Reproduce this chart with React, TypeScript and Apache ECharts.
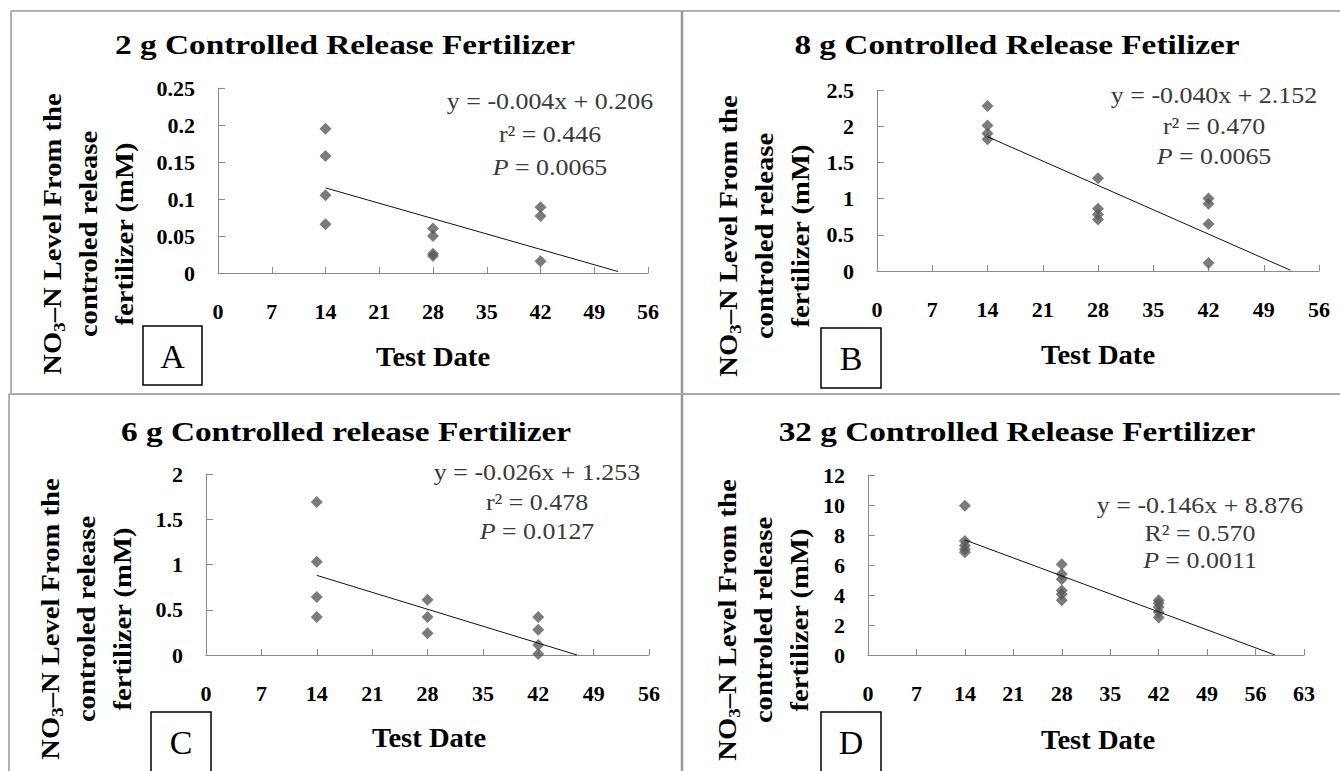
import React, { useEffect, useRef } from 'react';
import * as echarts from 'echarts';

// ---------- data ----------
const days = [14, 28, 42];

const titles = [
  '2 g Controlled Release Fertilizer',
  '8 g Controlled Release Fetilizer',
  '6 g Controlled release Fertilizer',
  '32 g Controlled Release Fertilizer',
];
const panelLetters = ['A', 'B', 'C', 'D'];

// NO3-N values (mM) at day 14, 28, 42
const valuesA = [
  [0.195, 0.158, 0.105, 0.066],
  [0.06, 0.05, 0.026, 0.023],
  [0.089, 0.077, 0.016],
];
const valuesB = [
  [2.28, 2.01, 1.9, 1.82],
  [1.28, 0.86, 0.78, 0.71],
  [1.0, 0.93, 0.65, 0.11],
];
const valuesC = [
  [1.69, 1.03, 0.64, 0.42],
  [0.61, 0.42, 0.24],
  [0.42, 0.28, 0.11, 0.01],
];
const valuesD = [
  [9.95, 7.6, 7.3, 7.05, 6.85],
  [6.05, 5.4, 5.05, 4.3, 4.05, 3.65],
  [3.65, 3.45, 3.2, 2.85, 2.5],
];

// trend lines as drawn: [day, value] at start and end
const trendA = [[14, 0.115], [52.1, 0.002]];
const trendB = [[14, 1.855], [52.4, 0.01]];
const trendC = [[14, 0.88], [46.9, 0]];
const trendD = [[14, 7.67], [58.8, 0]];

const equations = [
  ['y = -0.004x + 0.206', 'r² = 0.446', '0.0065'],
  ['y = -0.040x + 2.152', 'r² = 0.470', '0.0065'],
  ['y = -0.026x + 1.253', 'r² = 0.478', '0.0127'],
  ['y = -0.146x + 8.876', 'R² = 0.570', '0.0011'],
];

const yMax = [0.25, 2.5, 2, 12];
const yInterval = [0.05, 0.5, 0.5, 2];
const xMax = [56, 56, 56, 63];
const xInterval = 7;

const allValues = [valuesA, valuesB, valuesC, valuesD];
const allTrends = [trendA, trendB, trendC, trendD];

// ---------- layout ----------
const FONT = 'Liberation Serif, Times New Roman, serif';

const grids = [
  { left: 218, top: 88, width: 430, height: 185 },
  { left: 877, top: 90, width: 442, height: 181 },
  { left: 206, top: 474, width: 443, height: 181 },
  { left: 868, top: 475, width: 436, height: 180 },
];
const titlePos = [[345, 45], [1017, 45], [346, 432], [1017, 432]];
const eqPos = [
  { x: 550, ys: [101, 134, 167] },
  { x: 1214, ys: [95, 126, 156] },
  { x: 537, ys: [472, 502, 531] },
  { x: 1200, ys: [505, 533, 560] },
];
const xNamePos = [[433, 357], [1098, 355], [429, 738], [1098, 740]];
const yNamePos = [[88, 234], [764, 236], [86, 619], [763, 620]];
const boxPos = [
  [143, 326, 59, 59],
  [821, 328, 60, 60],
  [151, 712, 60, 70],
  [821, 712, 60, 70],
];

function buildOption() {
  const axisLineStyle = { color: '#8a8a8a', width: 1 };
  const labelStyle = {
    fontSize: 22,
    fontWeight: 'bold',
    fontFamily: FONT,
    color: '#000',
    showMinLabel: true,
    showMaxLabel: true,
  };
  const xAxis = grids.map((_, i) => ({
    type: 'value',
    gridIndex: i,
    min: 0,
    max: xMax[i],
    interval: xInterval,
    splitLine: { show: false },
    axisLine: { show: true, lineStyle: axisLineStyle },
    axisTick: { show: true, inside: true, length: 6, lineStyle: axisLineStyle },
    axisLabel: { ...labelStyle, margin: 27 },
  }));
  const yAxis = grids.map((_, i) => ({
    type: 'value',
    gridIndex: i,
    min: 0,
    max: yMax[i],
    interval: yInterval[i],
    splitLine: { show: false },
    axisLine: { show: true, lineStyle: axisLineStyle },
    axisTick: { show: true, inside: true, length: 7, lineStyle: axisLineStyle },
    axisLabel: { ...labelStyle, margin: 23 },
  }));

  const series: any[] = [];
  allValues.forEach((vals, i) => {
    const pts: number[][] = [];
    vals.forEach((arr, d) => arr.forEach((v) => pts.push([days[d], v])));
    series.push({
      type: 'scatter',
      xAxisIndex: i,
      yAxisIndex: i,
      data: pts,
      symbol: 'diamond',
      symbolSize: [12, 12],
      itemStyle: { color: '#5a5a5a' },
      z: 3,
    });
    series.push({
      type: 'line',
      xAxisIndex: i,
      yAxisIndex: i,
      data: allTrends[i],
      symbol: 'none',
      lineStyle: { color: '#111', width: 1 },
      z: 4,
    });
  });

  const graphic: any[] = [];
  // frame lines
  graphic.push(
    { type: 'line', shape: { x1: 11, y1: 11, x2: 1340, y2: 11 }, style: { stroke: '#999', lineWidth: 1.5 } },
    { type: 'line', shape: { x1: 11, y1: 11, x2: 11, y2: 394 }, style: { stroke: '#999', lineWidth: 1.5 } },
    { type: 'line', shape: { x1: 9, y1: 394, x2: 9, y2: 771 }, style: { stroke: '#999', lineWidth: 1.5 } },
    { type: 'line', shape: { x1: 682, y1: 11, x2: 682, y2: 771 }, style: { stroke: '#999', lineWidth: 2.5 } },
    { type: 'line', shape: { x1: 9, y1: 394, x2: 1340, y2: 394 }, style: { stroke: '#aaa', lineWidth: 2 } }
  );

  for (let i = 0; i < 4; i++) {
    // title
    graphic.push({
      type: 'text',
      x: titlePos[i][0],
      y: titlePos[i][1],
      scaleX: 1.19,
      style: {
        text: titles[i],
        fontFamily: FONT,
        fontWeight: 'bold',
        fontSize: 28,
        fill: '#000',
        align: 'center',
        verticalAlign: 'middle',
      },
    });
    // equation block
    const eq = equations[i];
    const ep = eqPos[i];
    const eqStyle = { fontFamily: FONT, fontSize: 24, fill: '#3a3a3a', align: 'center', verticalAlign: 'middle' };
    graphic.push({ type: 'text', x: ep.x, y: ep.ys[0], scaleX: 1.08, style: { ...eqStyle, text: eq[0] } });
    graphic.push({ type: 'text', x: ep.x, y: ep.ys[1], scaleX: 1.08, style: { ...eqStyle, text: eq[1] } });
    graphic.push({
      type: 'text',
      x: ep.x,
      y: ep.ys[2],
      scaleX: 1.08,
      style: {
        ...eqStyle,
        text: '{i|P}{n| = ' + eq[2] + '}',
        rich: {
          i: { fontFamily: FONT, fontSize: 24, fontStyle: 'italic', fill: '#3a3a3a' },
          n: { fontFamily: FONT, fontSize: 24, fill: '#3a3a3a' },
        },
      },
    });
    // x axis name
    graphic.push({
      type: 'text',
      x: xNamePos[i][0],
      y: xNamePos[i][1],
      scaleX: 1.06,
      style: {
        text: 'Test Date',
        fontFamily: FONT,
        fontWeight: 'bold',
        fontSize: 27,
        fill: '#000',
        align: 'center',
        verticalAlign: 'middle',
      },
    });
    // y axis name (rotated)
    const b = { fontFamily: FONT, fontWeight: 'bold', fontSize: 26, lineHeight: 36, fill: '#000' };
    graphic.push({
      type: 'text',
      x: yNamePos[i][0],
      y: yNamePos[i][1],
      rotation: Math.PI / 2,
      scaleX: 1.1,
      style: {
        text: '{b|NO}{s|3}{b|–N Level From the}\n{b|controled release}\n{b|fertilizer (mM)}',
        align: 'center',
        verticalAlign: 'middle',
        fill: '#000',
        fontFamily: FONT,
        fontWeight: 'bold',
        fontSize: 26,
        rich: {
          b,
          s: { fontFamily: FONT, fontWeight: 'bold', fontSize: 17, lineHeight: 36, padding: [14, 0, 0, 0], fill: '#000' },
        },
      },
    });
    // letter box
    const bp = boxPos[i];
    graphic.push({
      type: 'rect',
      shape: { x: bp[0], y: bp[1], width: bp[2], height: bp[3] },
      style: { fill: '#fff', stroke: '#000', lineWidth: 1.5 },
    });
    graphic.push({
      type: 'text',
      x: bp[0] + bp[2] / 2,
      y: bp[1] + 30,
      style: {
        text: panelLetters[i],
        fontFamily: FONT,
        fontSize: 34,
        fill: '#000',
        align: 'center',
        verticalAlign: 'middle',
      },
    });
  }

  return {
    animation: false,
    backgroundColor: '#fff',
    grid: grids.map((g) => ({ ...g, containLabel: false })),
    xAxis,
    yAxis,
    series,
    graphic,
  };
}

export default function App() {
  const ref = useRef<HTMLDivElement>(null);
  useEffect(() => {
    if (!ref.current) return;
    const chart = echarts.init(ref.current, null, { renderer: 'svg' });
    chart.setOption(buildOption() as any);
    return () => chart.dispose();
  }, []);
  return (
    <div
      ref={ref}
      style={{ position: 'absolute', left: 0, top: 0, width: 1340, height: 771, background: '#fff' }}
    />
  );
}
